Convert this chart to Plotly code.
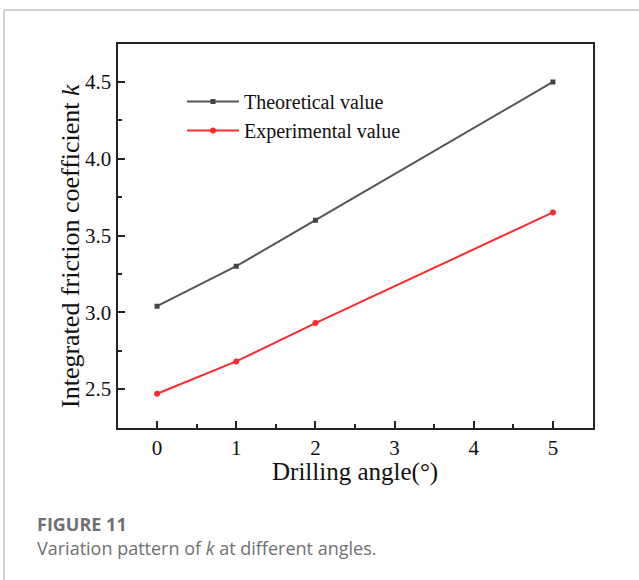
import plotly.graph_objects as go

angles = [0, 1, 2, 5]
theoretical = [3.04, 3.30, 3.60, 4.50]
experimental = [2.47, 2.68, 2.93, 3.65]
x_ticks = [0, 1, 2, 3, 4, 5]
y_ticks = [2.5, 3.0, 3.5, 4.0, 4.5]

W, H = 639, 580
serif = "Liberation Serif, Times New Roman, serif"

fig = go.Figure()
fig.add_trace(go.Scatter(x=angles, y=theoretical, mode="lines+markers", name="Theoretical value",
                         line=dict(color="#555555", width=2),
                         marker=dict(symbol="square", size=5, color="#444444")))
fig.add_trace(go.Scatter(x=angles, y=experimental, mode="lines+markers", name="Experimental value",
                         line=dict(color="#ff2a2a", width=2),
                         marker=dict(symbol="circle", size=6, color="#ff2a2a")))

def px_x(p):
    return p / W

def px_y(p):
    return 1 - p / H

axis_common = dict(showline=True, linecolor="#222222", linewidth=2, mirror=True,
                   ticks="inside", ticklen=7, tickwidth=1.5, tickcolor="#222222",
                   showgrid=False, zeroline=False,
                   tickfont=dict(family=serif, size=21, color="#111111"))

fig.update_layout(
    width=W, height=H,
    margin=dict(l=0, r=0, t=0, b=0),
    paper_bgcolor="white", plot_bgcolor="white",
    showlegend=True,
    legend=dict(x=px_x(182), y=px_y(82), xanchor="left", yanchor="top",
                font=dict(family=serif, size=20, color="#111111"),
                bgcolor="rgba(0,0,0,0)", tracegroupgap=0, itemwidth=52),
    xaxis=dict(domain=[px_x(117.5), px_x(592.5)], range=[-0.5, 5.5],
               tickvals=x_ticks, ticktext=[str(v) for v in x_ticks],
               minor=dict(ticks="inside", ticklen=4, dtick=0.5, tick0=0, tickcolor="#222222"),
               **axis_common),
    yaxis=dict(domain=[px_y(427.5), px_y(43.5)], range=[2.25, 4.75],
               tickvals=y_ticks, ticktext=[f"{v:.1f}" for v in y_ticks],
               minor=dict(ticks="inside", ticklen=4, dtick=0.25, tick0=2.5, tickcolor="#222222"),
               **axis_common),
    shapes=[
        dict(type="line", xref="paper", yref="paper", x0=px_x(4), x1=1, y0=px_y(10), y1=px_y(10),
             line=dict(color="#d0d0d0", width=2)),
        dict(type="line", xref="paper", yref="paper", x0=px_x(4), x1=px_x(4), y0=px_y(10), y1=0,
             line=dict(color="#d0d0d0", width=2)),
    ],
    annotations=[
        dict(text="Drilling angle(°)", xref="paper", yref="paper", x=px_x(355), y=px_y(472),
             xanchor="center", yanchor="middle", showarrow=False,
             font=dict(family=serif, size=25, color="#111111")),
        dict(text="Integrated friction coefficient <i>k</i>", xref="paper", yref="paper",
             x=px_x(70), y=px_y(246), xanchor="center", yanchor="middle", showarrow=False,
             textangle=-90, font=dict(family=serif, size=26, color="#111111")),
        dict(text="<b>FIGURE 11</b>", xref="paper", yref="paper", x=px_x(35), y=px_y(524),
             xanchor="left", yanchor="middle", showarrow=False,
             font=dict(family="Open Sans, sans-serif", size=18, color="#707070")),
        dict(text="Variation pattern of <i>k</i> at different angles.", xref="paper", yref="paper",
             x=px_x(35), y=px_y(548), xanchor="left", yanchor="middle", showarrow=False,
             font=dict(family="Open Sans, sans-serif", size=18, color="#707070")),
    ],
)

fig.write_html("out.html")
